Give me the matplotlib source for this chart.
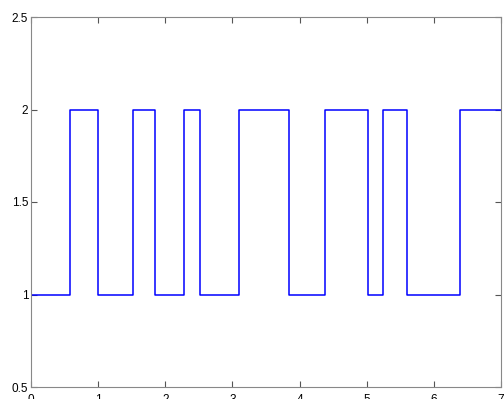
import matplotlib
matplotlib.use('Agg')
import matplotlib.pyplot as plt
from matplotlib.ticker import FormatStrFormatter
import numpy as np

# switching times and level after each switch
t_edges = [0, 0.576, 1.0, 1.515, 1.847, 2.283, 2.513, 3.094, 3.847,
           4.383, 5.024, 5.238, 5.605, 6.394, 7]
levels = [1, 2, 1, 2, 1, 2, 1, 2, 1, 2, 1, 2, 1, 2, 2]

plt.rcParams['font.family'] = ['Liberation Sans', 'DejaVu Sans']

fig = plt.figure(figsize=(5.04, 3.99), dpi=100)
ax = fig.add_axes([31/504, 12/399, 470/504, 370/399])

ax.step(t_edges, levels, where='post', color='#0000ff', linewidth=1.1)

ax.set_xlim(0, 7)
ax.set_ylim(0.5, 2.5)
ax.set_xticks(np.arange(0, 8, 1))
ax.set_yticks([0.5, 1, 1.5, 2, 2.5])
ax.yaxis.set_major_formatter(FormatStrFormatter('%g'))
ax.tick_params(direction='in', top=True, right=True, length=4,
               labelsize=8.5, color='#555555', pad=2)
ax.tick_params(axis='x', pad=5)
for s in ax.spines.values():
    s.set_color('#888888')
    s.set_linewidth(0.8)

fig.savefig('out.png', dpi=100)
